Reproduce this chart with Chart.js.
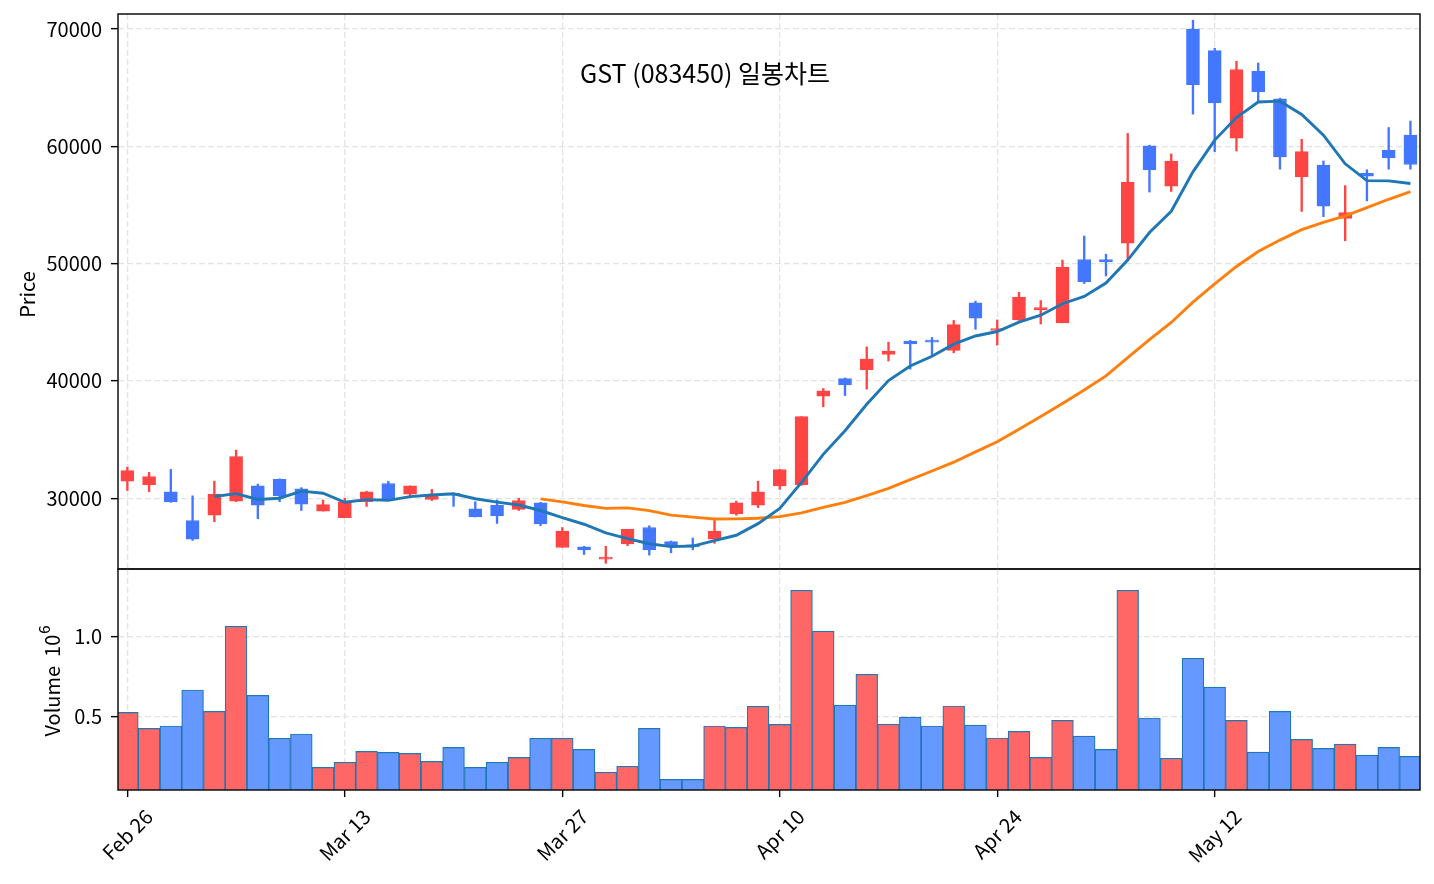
<!DOCTYPE html>
<html><head><meta charset="utf-8">
<script src="https://cdn.jsdelivr.net/npm/chart.js@4.4.1/dist/chart.umd.min.js"></script>
<style>
html,body{margin:0;padding:0;background:#fff;}
#wrap{position:relative;width:1434px;height:884px;overflow:hidden;background:#fff;}
#cPrice{position:absolute;left:0;top:0;}
#cVol{position:absolute;left:0;top:568px;}
</style></head><body>
<div id="wrap">
<canvas id="cPrice" width="1434" height="570"></canvas>
<canvas id="cVol" width="1434" height="316"></canvas>
</div>
<script>
// ---- data ----
const dates = ["Feb 26","Feb 27","Feb 28","Mar 04","Mar 05","Mar 06","Mar 07","Mar 10","Mar 11","Mar 12",
"Mar 13","Mar 14","Mar 17","Mar 18","Mar 19","Mar 20","Mar 21","Mar 24","Mar 25","Mar 26",
"Mar 27","Mar 28","Mar 31","Apr 01","Apr 02","Apr 03","Apr 04","Apr 07","Apr 08","Apr 09",
"Apr 10","Apr 11","Apr 14","Apr 15","Apr 16","Apr 17","Apr 18","Apr 21","Apr 22","Apr 23",
"Apr 24","Apr 25","Apr 28","Apr 29","Apr 30","May 02","May 07","May 08","May 09","May 10",
"May 12","May 13","May 14","May 15","May 16","May 19","May 20","May 21","May 22","May 23"];
const tickIndex = [0,10,20,30,40,50];
const tickLabels = ["Feb 26","Mar 13","Mar 27","Apr 10","Apr 24","May 12"];
const priceTicks = [30000,40000,50000,60000,70000];
const volumeTicks = [500000,1000000];

const openP = [31450,31150,30550,28100,28550,29750,31050,31600,30800,28900,
28350,29700,31250,30350,29900,30300,29100,29400,29050,29600,
25800,25850,24800,26100,27500,26300,26000,26500,28650,29400,
31050,31150,38700,40200,40950,42250,43400,43400,42600,46650,
44300,45200,46050,44950,50350,50350,51750,60050,56600,70000,
68150,60700,66400,64050,57400,58400,53850,57700,59650,60950];
const highP = [32650,32200,32450,30200,31450,34100,31200,31650,30900,29850,
30000,30600,31450,31050,30750,30350,29700,29850,30000,29650,
27500,25900,25900,27350,27650,26350,26600,28100,29750,31450,
32450,36950,39350,40250,42900,43300,43450,43700,45150,46800,
45200,47550,46850,50300,52350,50800,61100,60100,59350,70750,
68350,67250,67100,64100,60600,58750,56650,58000,61600,62150];
const lowP = [30650,30550,29650,26400,28000,29700,28250,29700,28950,28900,
28350,29300,29900,30200,29800,29300,28400,27850,28950,27650,
25800,25200,24450,25950,25150,25350,25600,26150,28550,29200,
30750,31100,37800,38750,39300,41700,41000,42200,42400,44400,
43050,45150,44850,44950,48300,48950,50300,56100,56150,62750,
59550,59600,63800,58050,54450,54000,51950,55350,58050,58050];
const closeP = [32350,31850,29680,26500,30350,33550,29400,30200,29500,29450,
29700,30550,29900,31050,30150,30250,28400,28500,29800,27800,
27200,25600,24850,27350,25600,25950,25850,27200,29600,30550,
32450,36950,39150,39650,41850,42550,43150,43300,44800,45350,
44450,47150,46250,49700,48450,50150,56950,58000,58750,65250,
63700,66550,64650,59100,59550,54900,54350,57450,59000,58450];
const volume = [527000,427000,442000,667000,533000,1065000,633000,365000,392000,183000,
215000,283000,277000,271000,221000,308000,183000,215000,246000,365000,
365000,296000,154000,190000,427000,108000,108000,442000,433000,565000,
452000,1290000,1035000,573000,765000,454000,498000,442000,567000,448000,
367000,408000,246000,477000,379000,296000,1290000,492000,240000,865000,
685000,477000,279000,533000,358000,302000,329000,260000,308000,252000];
const ma5 = [null,null,null,null,30146,30386,29896,30000,30600,30420,
29650,29880,29820,30130,30270,30380,29950,29670,29420,28950,
28340,27780,27050,26560,26120,25870,25920,26390,26840,27830,
29130,31350,33740,35750,38010,40030,41270,42100,43130,43830,
44210,45010,45600,46580,47200,48340,50300,52650,54460,57820,
60530,62450,63780,63850,62710,60950,58510,57070,57050,56830];
const ma20 = [null,null,null,null,null,null,null,null,null,null,
null,null,null,null,null,null,null,null,null,29947,
29689,29377,29135,29178,28940,28560,28383,28233,28238,28293,
28430,28750,29213,29643,30228,30843,31580,32320,33070,33948,
34810,35888,36958,38075,39218,40428,41983,43523,44980,46715,
48278,49758,51033,52005,52890,53508,54068,54775,55485,56140];

// ---- styles ----
const FONT = "'Noto Sans CJK KR','Noto Sans',sans-serif";
const FS = 20;
const UP = '#ff4444', DOWN = '#4477ff', VUP = '#ff6666', VDOWN = '#6699ff';
const GRID = '#e3e3e3';
const XMIN = -0.43, XMAX = 59.44;
const isUp = closeP.map((c,i)=>c>=openP[i]);

const frame = {id:'frame', afterDraw(chart){
  const a = chart.chartArea, c = chart.ctx;
  c.save(); c.strokeStyle = '#111'; c.lineWidth = 1.5;
  c.strokeRect(a.left, a.top, a.right-a.left, a.bottom-a.top); c.restore();
}};

const priceText = {id:'priceText', afterDraw(chart){
  const a = chart.chartArea, c = chart.ctx;
  c.save(); c.fillStyle = '#000';
  c.font = '25px ' + FONT; c.textAlign = 'center'; c.textBaseline = 'middle';
  c.fillText('GST (083450) 일봉차트', 705, 73);
  c.font = FS + 'px ' + FONT;
  c.translate(27, (a.top+a.bottom)/2 + 3); c.rotate(-Math.PI/2);
  c.fillText('Price', 0, 0);
  c.restore();
}};

const volText = {id:'volText', afterDraw(chart){
  const a = chart.chartArea, c = chart.ctx, xs = chart.scales.x;
  c.save(); c.fillStyle = '#000';
  c.font = FS + 'px ' + FONT;
  tickIndex.forEach((ix,k)=>{
    const px = xs.getPixelForValue(ix);
    const lab = tickLabels[k];
    const w = c.measureText(lab).width, h = FS;
    const bb = (w + h) * Math.SQRT1_2;
    c.save(); c.translate(px, a.bottom + 16 + bb/2); c.rotate(-Math.PI/4);
    c.textAlign = 'center'; c.textBaseline = 'middle'; c.fillText(lab, 0, 0); c.restore();
  });
  // y-axis title with superscript exponent
  const main = 'Volume  10', sup = '6';
  const SS = 15;
  c.font = FS + 'px ' + FONT;
  const w1 = c.measureText(main).width;
  c.font = SS + 'px ' + FONT;
  const w2 = c.measureText(sup).width;
  c.translate(52, (a.top+a.bottom)/2 + 2); c.rotate(-Math.PI/2);
  c.textAlign = 'left'; c.textBaseline = 'middle';
  c.font = FS + 'px ' + FONT;
  c.fillText(main, -(w1+w2)/2, 0);
  c.font = SS + 'px ' + FONT;
  c.fillText(sup, -(w1+w2)/2 + w1 + 1, -8);
  c.restore();
}};

const xCommon = (h, drawTicks) => ({
  type:'linear', min:XMIN, max:XMAX, offset:false,
  afterBuildTicks: s => { s.ticks = tickIndex.map(v=>({value:v})); },
  ticks:{display:false},
  grid:{offset:false, color:GRID, lineWidth:1.3, drawTicks:drawTicks, tickColor:'#000', tickLength:7, tickWidth:1.4, tickBorderDash:[]},
  border:{display:false, dash:[6,3]},
  afterFit: s => { s.height = h; s.paddingLeft = 0; s.paddingRight = 0; s.paddingTop = 0; s.paddingBottom = 0; }
});
const yFit = s => { s.width = 118; s.paddingTop = 0; s.paddingBottom = 0; s.paddingLeft = 0; s.paddingRight = 0; };

new Chart(document.getElementById('cPrice'), {
  type:'bar',
  data:{datasets:[
    {type:'line', data:ma5.map((v,i)=>({x:i,y:v})), borderColor:'#1f77b4', borderWidth:2.9, pointRadius:0, tension:0, order:0},
    {type:'line', data:ma20.map((v,i)=>({x:i,y:v})), borderColor:'#ff7f0e', borderWidth:2.9, pointRadius:0, tension:0, order:0},
    {type:'bar', data:openP.map((o,i)=>({x:i,y:[o,closeP[i]]})), backgroundColor:isUp.map(u=>u?UP:DOWN),
     borderColor:isUp.map(u=>u?UP:DOWN), borderWidth:1, borderSkipped:false, barThickness:13, grouped:false, minBarLength:2, order:1},
    {type:'bar', data:lowP.map((l,i)=>({x:i,y:[l,highP[i]]})), backgroundColor:isUp.map(u=>u?UP:DOWN),
     borderWidth:0, barThickness:1.7, grouped:false, order:2}
  ]},
  options:{
    responsive:false, animation:false, devicePixelRatio:1,
    layout:{padding:{left:0,right:14,top:14,bottom:0}},
    plugins:{legend:{display:false}, tooltip:{enabled:false}, title:{display:false}},
    scales:{
      x: xCommon(1, false),
      y:{type:'linear', min:23964, max:71279,
        afterBuildTicks: s => { s.ticks = priceTicks.map(v=>({value:v})); },
        ticks:{font:{family:FONT,size:FS}, color:'#000', padding:9, callback:v=>String(v)},
        grid:{color:GRID, lineWidth:1.3, tickColor:'#000', tickLength:7, tickWidth:1.4, tickBorderDash:[]},
        border:{display:false, dash:[6,3]},
        afterFit: yFit}
    }
  },
  plugins:[frame, priceText]
});

new Chart(document.getElementById('cVol'), {
  type:'bar',
  data:{datasets:[
    {data:volume.map((v,i)=>({x:i,y:v})), backgroundColor:isUp.map(u=>u?VUP:VDOWN),
     borderColor:'#1f77b4', borderWidth:1.2, borderSkipped:false, barPercentage:1, categoryPercentage:1}
  ]},
  options:{
    responsive:false, animation:false, devicePixelRatio:1,
    layout:{padding:{left:0,right:14,top:1,bottom:0}},
    plugins:{legend:{display:false}, tooltip:{enabled:false}},
    scales:{
      x: xCommon(94, true),
      y:{type:'linear', min:42000, max:1423000,
        afterBuildTicks: s => { s.ticks = volumeTicks.map(v=>({value:v})); },
        ticks:{font:{family:FONT,size:FS}, color:'#000', padding:9, callback:v=>(v/1e6).toFixed(1)},
        grid:{color:GRID, lineWidth:1.3, tickColor:'#000', tickLength:7, tickWidth:1.4, tickBorderDash:[]},
        border:{display:false, dash:[6,3]},
        afterFit: yFit}
    }
  },
  plugins:[frame, volText]
});
</script>
</body></html>
